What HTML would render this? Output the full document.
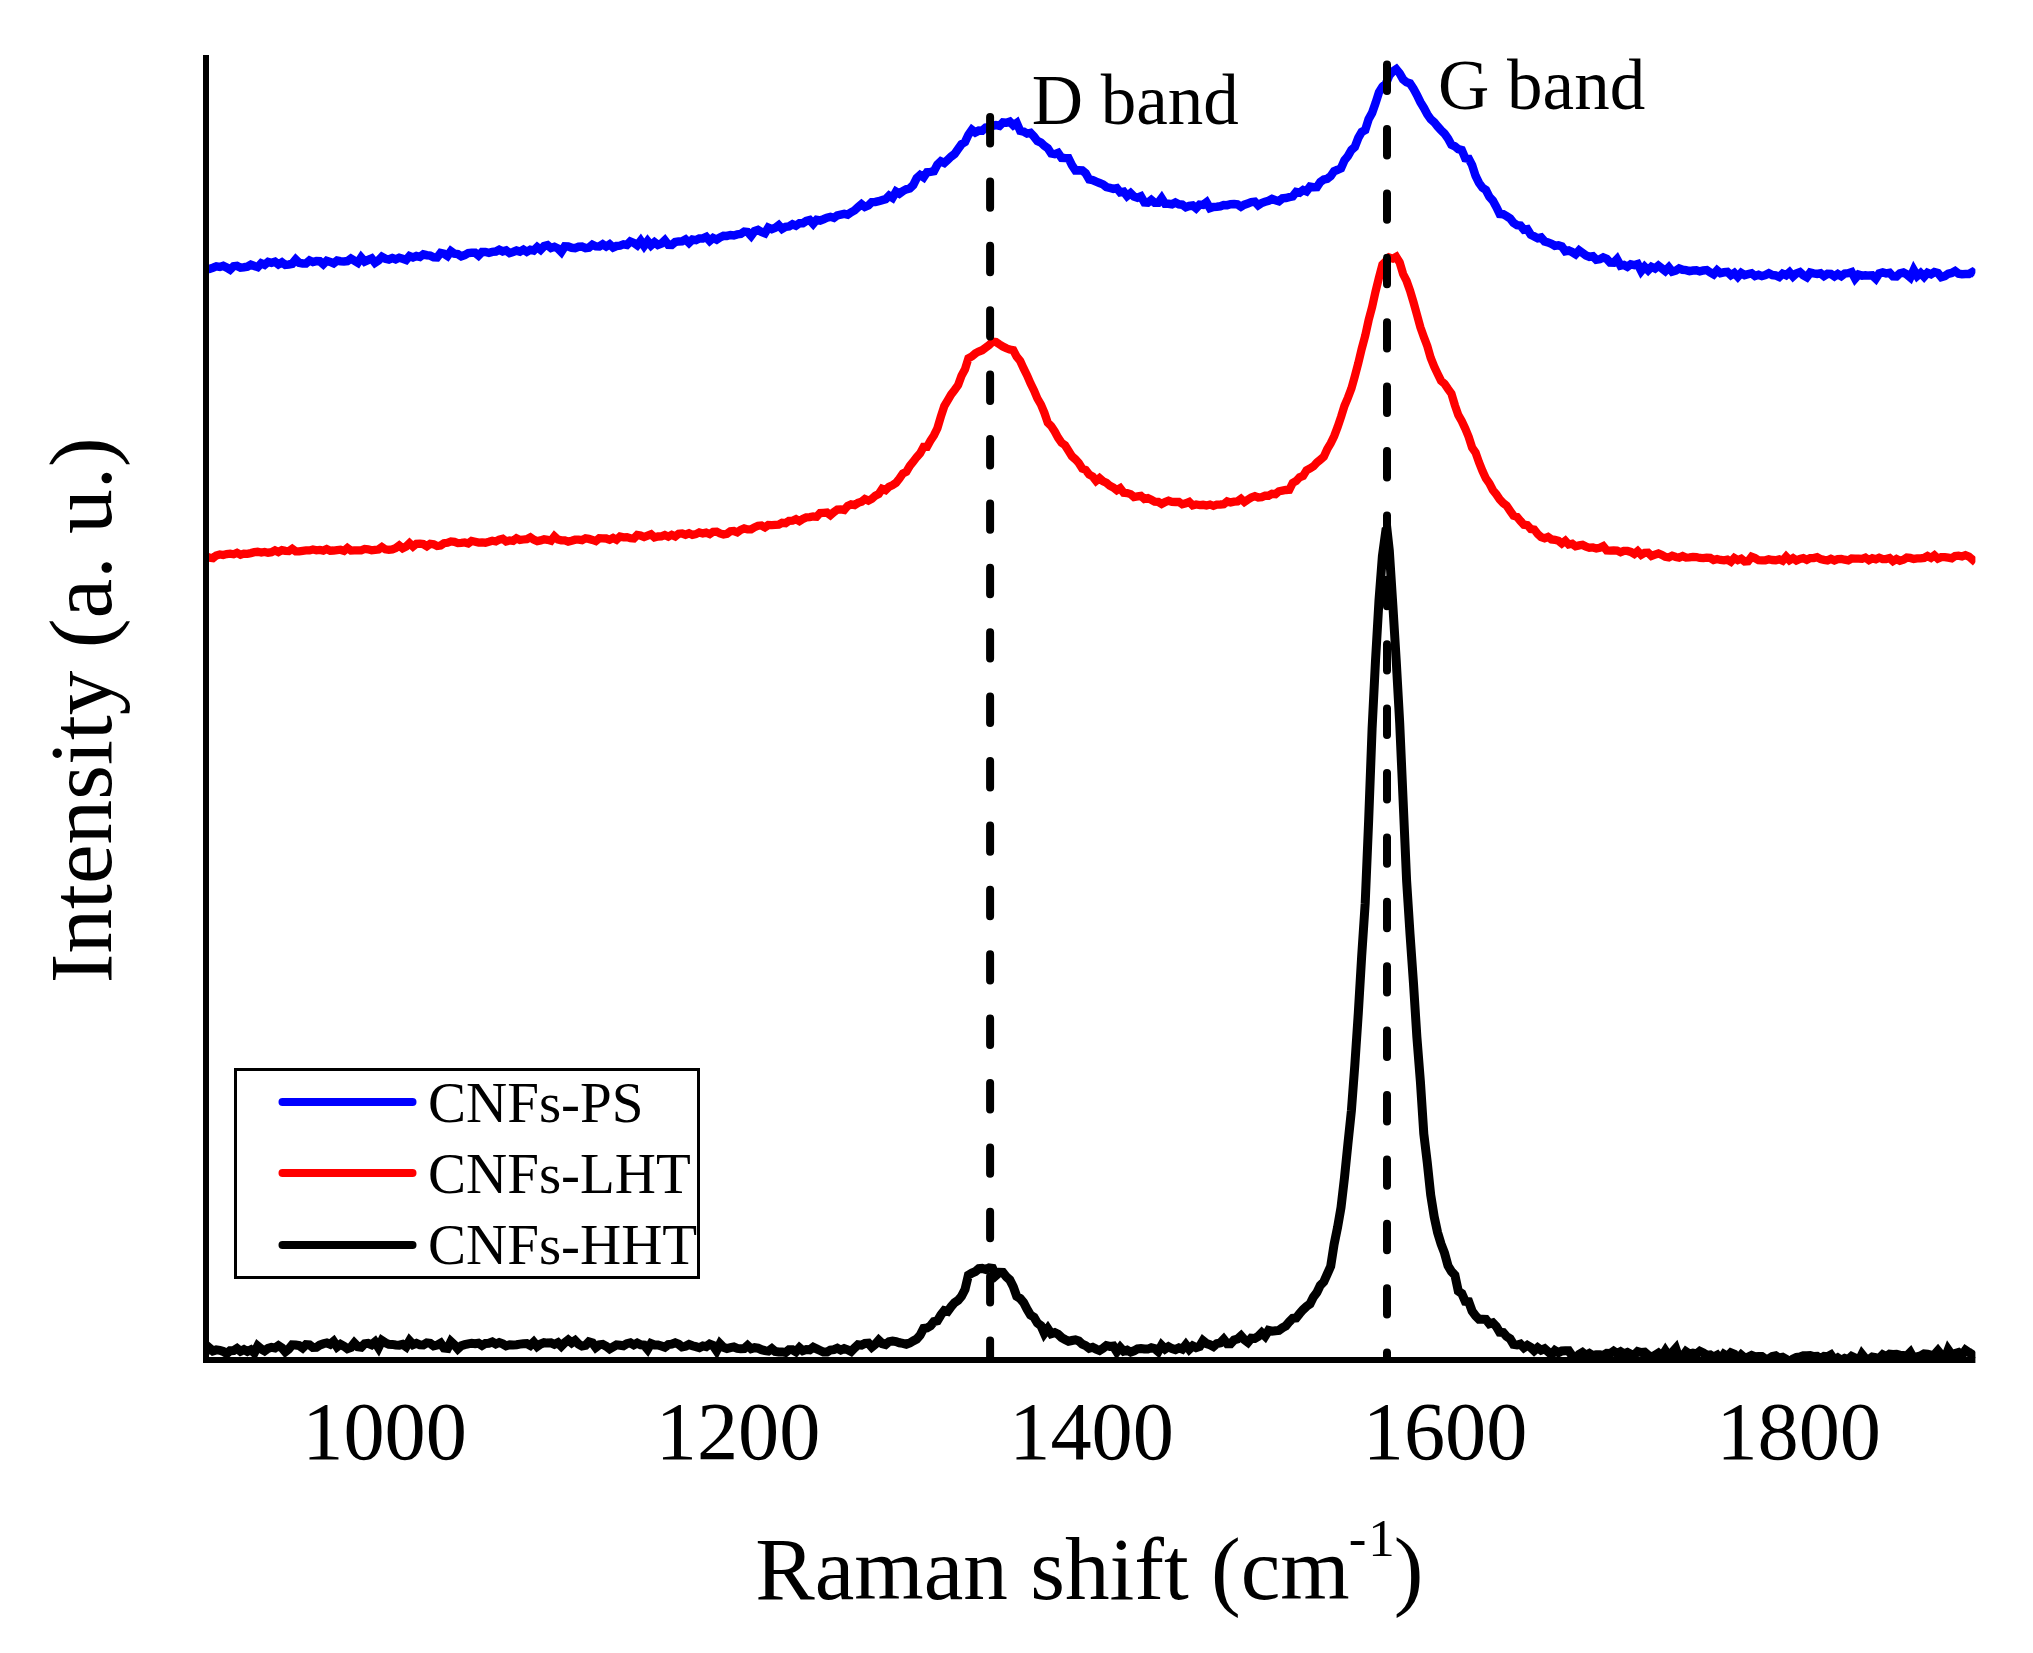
<!DOCTYPE html>
<html><head><meta charset="utf-8"><title>Raman spectra</title>
<style>
html,body{margin:0;padding:0;background:#fff;overflow:hidden;}
svg{display:block;}
text{font-family:'Liberation Serif','Times New Roman',serif;fill:#000;}
</style></head>
<body>
<svg width="2033" height="1653" viewBox="0 0 2033 1653">
<rect width="2033" height="1653" fill="#fff"/>
<!-- data -->
<defs><clipPath id="plotclip"><rect x="203" y="40" width="1772.4" height="1323"/></clipPath></defs>
<g clip-path="url(#plotclip)" fill="none" stroke-linejoin="miter" stroke-miterlimit="2.5" stroke-linecap="butt" stroke-width="8.3">
<path stroke="#000" stroke-width="9" d="M206.0 1351.7 L209.4 1348.0 L212.9 1351.0 L216.3 1349.9 L219.8 1350.3 L223.2 1351.4 L226.7 1353.5 L230.1 1350.7 L233.6 1350.5 L237.0 1348.4 L240.5 1351.2 L243.9 1349.6 L247.4 1351.5 L250.8 1349.8 L254.3 1353.0 L257.7 1346.1 L261.2 1349.0 L264.6 1350.9 L268.1 1348.4 L271.5 1347.3 L275.0 1347.9 L278.4 1345.6 L281.9 1347.9 L285.3 1351.8 L288.8 1349.1 L292.2 1344.8 L295.7 1345.0 L299.1 1345.6 L302.6 1348.0 L306.0 1344.6 L309.5 1344.8 L312.9 1347.5 L316.4 1347.4 L319.8 1345.1 L323.3 1343.7 L326.7 1342.9 L330.2 1344.3 L333.6 1341.5 L337.1 1346.8 L340.5 1344.3 L344.0 1346.2 L347.4 1348.7 L350.9 1347.4 L354.3 1343.1 L357.8 1346.7 L361.2 1347.2 L364.7 1343.7 L368.1 1343.3 L371.6 1344.8 L375.0 1342.0 L378.5 1347.5 L381.9 1340.5 L385.4 1342.8 L388.8 1344.3 L392.3 1344.4 L395.7 1345.0 L399.2 1345.2 L402.6 1344.3 L406.1 1346.7 L409.5 1340.8 L413.0 1344.6 L416.4 1343.3 L419.9 1344.8 L423.3 1344.9 L426.8 1342.9 L430.2 1343.3 L433.7 1345.9 L437.1 1345.1 L440.6 1343.2 L444.0 1348.1 L447.5 1348.5 L450.9 1341.7 L454.4 1344.9 L457.8 1348.8 L461.3 1345.7 L464.7 1344.7 L468.2 1343.9 L471.6 1343.3 L475.1 1343.8 L478.5 1343.2 L482.0 1345.5 L485.4 1343.4 L488.9 1343.3 L492.3 1342.0 L495.8 1344.0 L499.2 1342.5 L502.7 1343.8 L506.1 1345.9 L509.6 1344.7 L513.0 1345.0 L516.5 1344.7 L519.9 1344.1 L523.4 1343.8 L526.8 1343.5 L530.3 1345.4 L533.7 1342.1 L537.2 1346.4 L540.6 1344.1 L544.1 1342.7 L547.5 1343.1 L551.0 1342.8 L554.4 1344.3 L557.9 1342.7 L561.3 1346.1 L564.8 1342.6 L568.2 1340.0 L571.7 1342.8 L575.1 1340.5 L578.6 1344.1 L582.0 1346.1 L585.5 1345.4 L588.9 1341.8 L592.4 1342.9 L595.8 1347.5 L599.3 1344.9 L602.7 1344.4 L606.2 1346.3 L609.6 1348.9 L613.1 1346.8 L616.5 1344.8 L620.0 1345.2 L623.4 1345.7 L626.9 1343.6 L630.3 1342.8 L633.8 1344.9 L637.2 1343.1 L640.7 1344.8 L644.1 1345.1 L647.6 1349.2 L651.0 1343.5 L654.5 1344.9 L657.9 1344.9 L661.4 1346.1 L664.8 1347.3 L668.3 1344.6 L671.7 1344.2 L675.2 1342.8 L678.6 1344.2 L682.1 1347.0 L685.5 1346.3 L689.0 1344.5 L692.4 1345.8 L695.9 1346.7 L699.3 1347.7 L702.8 1345.9 L706.2 1346.7 L709.7 1344.1 L713.1 1345.4 L716.6 1350.6 L720.0 1343.9 L723.5 1347.4 L726.9 1348.5 L730.4 1347.6 L733.8 1347.0 L737.3 1348.4 L740.7 1348.7 L744.2 1348.6 L747.6 1345.5 L751.1 1348.7 L754.5 1347.6 L758.0 1348.2 L761.4 1349.7 L764.9 1350.6 L768.3 1351.1 L771.8 1348.7 L775.2 1351.4 L778.7 1351.9 L782.1 1351.9 L785.6 1352.5 L789.0 1349.8 L792.5 1349.8 L795.9 1351.7 L799.4 1347.8 L802.8 1350.7 L806.3 1349.5 L809.7 1349.8 L813.2 1347.3 L816.6 1348.9 L820.1 1350.5 L823.5 1352.1 L827.0 1352.1 L830.4 1350.0 L833.9 1349.6 L837.3 1348.2 L840.8 1350.1 L844.2 1348.6 L847.7 1349.8 L851.1 1351.5 L854.6 1347.9 L858.0 1344.7 L861.5 1345.2 L864.9 1343.4 L868.4 1343.2 L871.8 1347.0 L875.3 1344.2 L878.7 1340.3 L882.2 1343.6 L885.6 1344.5 L889.1 1341.6 L892.5 1341.0 L896.0 1341.6 L899.4 1342.8 L902.9 1343.4 L906.3 1344.3 L909.8 1343.0 L913.2 1340.9 L916.7 1339.1 L920.1 1335.3 L923.6 1328.4 L927.0 1328.0 L930.5 1325.9 L933.9 1321.6 L937.4 1320.8 L940.8 1315.1 L944.3 1310.6 L947.7 1311.4 L951.2 1306.6 L954.6 1302.6 L958.1 1300.4 L961.5 1296.3 L965.0 1289.5 L968.4 1275.2 L971.9 1273.1 L975.3 1271.6 L978.8 1268.7 L982.2 1268.4 L985.7 1269.5 L989.1 1267.8 L992.6 1268.3 L996.0 1275.4 L999.5 1272.3 L1002.9 1272.5 L1006.4 1276.8 L1009.8 1279.9 L1013.3 1286.7 L1016.7 1296.2 L1020.2 1298.5 L1023.6 1302.5 L1027.1 1309.3 L1030.5 1315.1 L1034.0 1317.2 L1037.4 1323.0 L1040.9 1325.7 L1044.3 1333.3 L1047.8 1328.6 L1051.2 1333.7 L1054.7 1332.6 L1058.1 1334.2 L1061.6 1337.6 L1065.0 1339.5 L1068.5 1341.3 L1071.9 1340.5 L1075.4 1339.8 L1078.8 1341.0 L1082.3 1344.2 L1085.7 1345.7 L1089.2 1348.3 L1092.6 1347.3 L1096.1 1349.1 L1099.5 1350.4 L1103.0 1348.3 L1106.4 1345.6 L1109.9 1346.4 L1113.3 1346.1 L1116.8 1351.7 L1120.2 1347.4 L1123.7 1351.2 L1127.1 1350.1 L1130.6 1352.1 L1134.0 1350.8 L1137.5 1348.8 L1140.9 1348.5 L1144.4 1349.0 L1147.8 1349.1 L1151.3 1347.8 L1154.7 1348.6 L1158.2 1351.5 L1161.6 1345.4 L1165.1 1348.9 L1168.5 1346.7 L1172.0 1348.6 L1175.4 1349.6 L1178.9 1347.9 L1182.3 1349.2 L1185.8 1344.8 L1189.2 1349.3 L1192.7 1345.9 L1196.1 1347.6 L1199.6 1346.4 L1203.0 1340.8 L1206.5 1343.6 L1209.9 1344.7 L1213.4 1346.5 L1216.8 1343.6 L1220.3 1342.9 L1223.7 1339.3 L1227.2 1343.8 L1230.6 1343.8 L1234.1 1340.0 L1237.5 1339.0 L1241.0 1335.9 L1244.4 1339.8 L1247.9 1342.4 L1251.3 1338.2 L1254.8 1338.5 L1258.2 1336.4 L1261.7 1332.8 L1265.1 1336.1 L1268.6 1330.4 L1272.0 1331.1 L1275.5 1330.7 L1278.9 1330.4 L1282.4 1327.8 L1285.8 1325.9 L1289.3 1321.7 L1292.7 1318.3 L1296.2 1318.0 L1299.6 1313.7 L1303.1 1309.6 L1306.5 1306.4 L1310.0 1304.0 L1313.4 1297.1 L1316.9 1292.4 L1320.3 1285.4 L1323.8 1281.8 L1327.2 1274.1 L1330.7 1266.3 L1334.1 1244.4 L1337.6 1227.2 L1341.0 1207.5 L1344.5 1177.5 L1347.9 1144.0 L1351.4 1110.6 L1354.8 1065.4 L1358.3 1013.1 L1361.7 955.8 L1365.2 903.2 L1368.6 821.7 L1372.1 728.5 L1375.5 660.8 L1379.0 600.2 L1382.4 556.1 L1385.9 530.3 L1387.0 529.6 L1389.3 550.4 L1392.8 604.5 L1396.2 660.3 L1399.7 722.9 L1403.1 800.4 L1406.6 880.6 L1410.0 933.8 L1413.5 983.6 L1416.9 1037.4 L1420.4 1081.7 L1423.8 1133.9 L1427.3 1162.9 L1430.7 1195.0 L1434.2 1216.8 L1437.6 1232.5 L1441.1 1244.1 L1444.5 1253.0 L1448.0 1265.8 L1451.4 1271.4 L1454.9 1275.1 L1458.3 1291.1 L1461.8 1293.5 L1465.2 1301.3 L1468.7 1301.7 L1472.1 1311.1 L1475.6 1315.9 L1479.0 1319.3 L1482.5 1319.3 L1485.9 1319.5 L1489.4 1323.8 L1492.8 1322.8 L1496.3 1326.4 L1499.7 1332.2 L1503.2 1332.6 L1506.6 1336.4 L1510.1 1338.7 L1513.5 1344.4 L1517.0 1345.0 L1520.4 1344.1 L1523.9 1347.7 L1527.3 1345.4 L1530.8 1347.4 L1534.2 1350.7 L1537.7 1347.7 L1541.1 1350.1 L1544.6 1348.7 L1548.0 1351.6 L1551.5 1354.6 L1554.9 1350.6 L1558.4 1352.7 L1561.8 1350.9 L1565.3 1350.7 L1568.7 1350.8 L1572.2 1355.8 L1575.6 1357.7 L1579.1 1354.5 L1582.5 1352.5 L1586.0 1355.2 L1589.4 1353.4 L1592.9 1355.5 L1596.3 1354.7 L1599.8 1354.7 L1603.2 1355.4 L1606.7 1353.3 L1610.1 1353.6 L1613.6 1351.2 L1617.0 1353.5 L1620.5 1351.7 L1623.9 1353.9 L1627.4 1352.4 L1630.8 1354.3 L1634.3 1354.9 L1637.7 1351.5 L1641.2 1352.5 L1644.6 1352.2 L1648.1 1355.2 L1651.5 1356.9 L1655.0 1355.3 L1658.4 1353.1 L1661.9 1356.3 L1665.3 1350.9 L1668.8 1356.3 L1672.2 1352.4 L1675.7 1348.5 L1679.1 1358.3 L1682.6 1356.3 L1686.0 1351.6 L1689.5 1353.9 L1692.9 1353.2 L1696.4 1353.9 L1699.8 1351.2 L1703.3 1352.9 L1706.7 1355.2 L1710.2 1354.9 L1713.6 1357.0 L1717.1 1355.2 L1720.5 1359.6 L1724.0 1354.3 L1727.4 1356.3 L1730.9 1352.7 L1734.3 1354.1 L1737.8 1359.0 L1741.2 1355.1 L1744.7 1358.0 L1748.1 1357.1 L1751.6 1355.5 L1755.0 1356.8 L1758.5 1356.6 L1761.9 1356.6 L1765.4 1358.9 L1768.8 1358.7 L1772.3 1356.4 L1775.7 1355.8 L1779.2 1358.0 L1782.6 1357.3 L1786.1 1359.3 L1789.5 1362.2 L1793.0 1358.9 L1796.4 1357.3 L1799.9 1357.0 L1803.3 1355.8 L1806.8 1355.7 L1810.2 1355.5 L1813.7 1356.5 L1817.1 1356.4 L1820.6 1358.5 L1824.0 1356.4 L1827.5 1356.8 L1830.9 1354.9 L1834.4 1360.0 L1837.8 1357.9 L1841.3 1360.2 L1844.7 1358.3 L1848.2 1359.5 L1851.6 1356.3 L1855.1 1358.0 L1858.5 1361.5 L1862.0 1354.4 L1865.4 1358.6 L1868.9 1359.4 L1872.3 1357.0 L1875.8 1357.6 L1879.2 1358.4 L1882.7 1354.8 L1886.1 1356.6 L1889.6 1354.1 L1893.0 1354.4 L1896.5 1354.3 L1899.9 1355.1 L1903.4 1355.5 L1906.8 1355.9 L1910.3 1352.4 L1913.7 1358.5 L1917.2 1356.8 L1920.6 1355.9 L1924.1 1353.8 L1927.5 1354.1 L1931.0 1355.1 L1934.4 1354.7 L1937.9 1350.7 L1941.3 1355.0 L1944.8 1358.8 L1948.2 1349.9 L1951.7 1354.9 L1955.1 1353.6 L1958.6 1352.5 L1962.0 1355.0 L1965.5 1350.1 L1968.9 1352.4 L1972.4 1354.6 L1975.0 1351.3"/>
<path stroke="#ff0000" d="M206.0 556.3 L209.4 557.7 L212.9 558.1 L216.3 555.4 L219.8 554.4 L223.2 555.0 L226.7 554.1 L230.1 553.7 L233.6 554.3 L237.0 552.9 L240.5 554.7 L243.9 553.6 L247.4 553.8 L250.8 553.1 L254.3 552.2 L257.7 551.8 L261.2 552.5 L264.6 551.9 L268.1 552.7 L271.5 552.2 L275.0 550.4 L278.4 552.0 L281.9 550.1 L285.3 550.9 L288.8 551.1 L292.2 548.8 L295.7 551.4 L299.1 551.3 L302.6 550.8 L306.0 550.4 L309.5 550.4 L312.9 549.5 L316.4 550.3 L319.8 549.9 L323.3 550.6 L326.7 549.0 L330.2 550.7 L333.6 550.5 L337.1 550.1 L340.5 549.7 L344.0 550.9 L347.4 548.0 L350.9 550.6 L354.3 550.3 L357.8 550.3 L361.2 550.3 L364.7 548.9 L368.1 549.3 L371.6 550.3 L375.0 549.9 L378.5 549.5 L381.9 547.1 L385.4 549.4 L388.8 549.9 L392.3 549.4 L395.7 548.1 L399.2 545.5 L402.6 548.3 L406.1 546.5 L409.5 543.2 L413.0 546.5 L416.4 543.8 L419.9 543.6 L423.3 544.1 L426.8 546.2 L430.2 543.8 L433.7 544.3 L437.1 545.9 L440.6 545.5 L444.0 543.2 L447.5 542.8 L450.9 541.4 L454.4 541.9 L457.8 543.1 L461.3 542.9 L464.7 542.4 L468.2 543.4 L471.6 541.0 L475.1 541.7 L478.5 542.6 L482.0 542.3 L485.4 542.7 L488.9 541.8 L492.3 540.8 L495.8 541.5 L499.2 539.7 L502.7 538.8 L506.1 541.4 L509.6 540.5 L513.0 540.9 L516.5 538.3 L519.9 539.9 L523.4 539.5 L526.8 539.1 L530.3 537.3 L533.7 539.7 L537.2 541.1 L540.6 540.4 L544.1 539.2 L547.5 539.8 L551.0 540.7 L554.4 536.3 L557.9 539.5 L561.3 540.3 L564.8 540.4 L568.2 541.6 L571.7 540.8 L575.1 539.7 L578.6 539.6 L582.0 540.1 L585.5 538.3 L588.9 538.9 L592.4 539.9 L595.8 541.1 L599.3 538.3 L602.7 538.4 L606.2 538.5 L609.6 539.8 L613.1 538.0 L616.5 539.7 L620.0 536.5 L623.4 537.3 L626.9 537.1 L630.3 538.2 L633.8 538.4 L637.2 535.0 L640.7 535.6 L644.1 537.0 L647.6 535.6 L651.0 534.3 L654.5 537.4 L657.9 536.5 L661.4 536.4 L664.8 535.0 L668.3 536.7 L671.7 534.9 L675.2 536.4 L678.6 533.7 L682.1 533.5 L685.5 534.7 L689.0 533.3 L692.4 534.8 L695.9 534.1 L699.3 532.4 L702.8 533.4 L706.2 532.6 L709.7 534.0 L713.1 531.8 L716.6 531.7 L720.0 533.5 L723.5 534.5 L726.9 533.9 L730.4 531.2 L733.8 531.0 L737.3 532.3 L740.7 529.9 L744.2 528.4 L747.6 529.4 L751.1 529.4 L754.5 527.3 L758.0 525.7 L761.4 525.4 L764.9 527.4 L768.3 525.0 L771.8 525.1 L775.2 524.9 L778.7 524.7 L782.1 522.8 L785.6 523.2 L789.0 520.8 L792.5 520.7 L795.9 519.2 L799.4 521.2 L802.8 519.0 L806.3 517.4 L809.7 517.1 L813.2 516.5 L816.6 516.8 L820.1 513.0 L823.5 512.8 L827.0 512.6 L830.4 515.2 L833.9 512.1 L837.3 509.6 L840.8 509.5 L844.2 510.0 L847.7 505.9 L851.1 504.4 L854.6 505.1 L858.0 502.9 L861.5 501.8 L864.9 499.0 L868.4 500.6 L871.8 498.8 L875.3 495.7 L878.7 494.1 L882.2 488.8 L885.6 490.1 L889.1 486.8 L892.5 485.1 L896.0 482.8 L899.4 478.6 L902.9 473.4 L906.3 471.8 L909.8 465.8 L913.2 461.7 L916.7 457.1 L920.1 453.4 L923.6 446.9 L927.0 446.9 L930.5 440.6 L933.9 435.4 L937.4 428.2 L940.8 416.8 L944.3 406.1 L947.7 400.4 L951.2 394.4 L954.6 390.0 L958.1 385.1 L961.5 375.8 L965.0 369.3 L968.4 358.3 L971.9 356.4 L975.3 353.5 L978.8 351.5 L982.2 350.2 L985.7 347.7 L989.1 345.2 L992.6 341.6 L996.0 342.0 L999.5 344.4 L1002.9 346.6 L1006.4 348.3 L1009.8 349.6 L1013.3 350.3 L1016.7 356.7 L1020.2 361.0 L1023.6 368.5 L1027.1 375.4 L1030.5 383.3 L1034.0 390.4 L1037.4 398.5 L1040.9 404.5 L1044.3 412.6 L1047.8 422.8 L1051.2 426.1 L1054.7 431.5 L1058.1 437.7 L1061.6 442.8 L1065.0 445.2 L1068.5 450.7 L1071.9 456.2 L1075.4 459.3 L1078.8 463.0 L1082.3 468.7 L1085.7 469.9 L1089.2 474.5 L1092.6 476.4 L1096.1 480.9 L1099.5 478.2 L1103.0 481.2 L1106.4 482.8 L1109.9 485.8 L1113.3 487.5 L1116.8 490.2 L1120.2 488.2 L1123.7 492.8 L1127.1 493.0 L1130.6 494.1 L1134.0 497.0 L1137.5 496.4 L1140.9 495.9 L1144.4 498.9 L1147.8 498.2 L1151.3 499.8 L1154.7 501.6 L1158.2 501.9 L1161.6 503.9 L1165.1 502.0 L1168.5 500.7 L1172.0 501.9 L1175.4 502.0 L1178.9 501.9 L1182.3 504.3 L1185.8 503.3 L1189.2 501.9 L1192.7 505.4 L1196.1 504.5 L1199.6 505.1 L1203.0 504.8 L1206.5 505.4 L1209.9 504.5 L1213.4 505.9 L1216.8 504.7 L1220.3 504.5 L1223.7 504.2 L1227.2 501.4 L1230.6 502.4 L1234.1 501.6 L1237.5 501.4 L1241.0 498.8 L1244.4 502.0 L1247.9 499.6 L1251.3 497.4 L1254.8 496.2 L1258.2 497.5 L1261.7 497.1 L1265.1 495.6 L1268.6 495.7 L1272.0 493.8 L1275.5 494.2 L1278.9 491.3 L1282.4 490.6 L1285.8 490.0 L1289.3 489.8 L1292.7 482.9 L1296.2 481.0 L1299.6 477.3 L1303.1 475.9 L1306.5 470.4 L1310.0 468.5 L1313.4 466.4 L1316.9 462.5 L1320.3 459.7 L1323.8 456.7 L1327.2 449.2 L1330.7 443.3 L1334.1 436.3 L1337.6 427.0 L1341.0 417.0 L1344.5 405.8 L1347.9 397.8 L1351.4 388.5 L1354.8 376.3 L1358.3 363.1 L1361.7 348.8 L1365.2 335.8 L1368.6 320.3 L1372.1 307.1 L1375.5 291.7 L1379.0 277.6 L1382.4 264.7 L1385.9 261.2 L1389.3 257.5 L1392.8 258.6 L1396.2 256.8 L1399.7 262.5 L1403.1 274.0 L1406.6 281.0 L1410.0 290.5 L1413.5 302.2 L1416.9 314.5 L1420.4 327.3 L1423.8 336.8 L1427.3 346.0 L1430.7 357.9 L1434.2 366.6 L1437.6 373.7 L1441.1 380.8 L1444.5 383.7 L1448.0 388.9 L1451.4 393.6 L1454.9 405.3 L1458.3 415.0 L1461.8 421.2 L1465.2 428.5 L1468.7 436.9 L1472.1 447.6 L1475.6 452.7 L1479.0 462.3 L1482.5 471.1 L1485.9 478.4 L1489.4 483.3 L1492.8 490.0 L1496.3 494.3 L1499.7 499.3 L1503.2 503.1 L1506.6 505.7 L1510.1 510.8 L1513.5 515.7 L1517.0 516.8 L1520.4 520.9 L1523.9 524.7 L1527.3 525.1 L1530.8 529.0 L1534.2 529.5 L1537.7 534.0 L1541.1 537.1 L1544.6 538.3 L1548.0 536.9 L1551.5 539.4 L1554.9 539.8 L1558.4 540.8 L1561.8 543.5 L1565.3 540.8 L1568.7 544.5 L1572.2 543.8 L1575.6 546.3 L1579.1 545.4 L1582.5 544.9 L1586.0 546.6 L1589.4 547.7 L1592.9 547.4 L1596.3 548.4 L1599.8 547.7 L1603.2 546.1 L1606.7 550.4 L1610.1 550.6 L1613.6 550.3 L1617.0 550.6 L1620.5 552.2 L1623.9 550.8 L1627.4 550.9 L1630.8 551.9 L1634.3 554.0 L1637.7 551.2 L1641.2 554.8 L1644.6 552.9 L1648.1 552.7 L1651.5 556.0 L1655.0 554.7 L1658.4 553.5 L1661.9 555.0 L1665.3 556.9 L1668.8 557.5 L1672.2 555.7 L1675.7 557.0 L1679.1 557.6 L1682.6 556.1 L1686.0 557.6 L1689.5 557.3 L1692.9 556.9 L1696.4 557.1 L1699.8 558.0 L1703.3 558.2 L1706.7 557.6 L1710.2 557.9 L1713.6 560.0 L1717.1 559.0 L1720.5 559.9 L1724.0 560.4 L1727.4 559.7 L1730.9 561.8 L1734.3 558.0 L1737.8 560.1 L1741.2 558.7 L1744.7 561.5 L1748.1 561.3 L1751.6 556.8 L1755.0 558.1 L1758.5 560.2 L1761.9 560.3 L1765.4 560.3 L1768.8 559.3 L1772.3 560.0 L1775.7 560.2 L1779.2 559.3 L1782.6 560.7 L1786.1 556.6 L1789.5 560.2 L1793.0 558.1 L1796.4 560.5 L1799.9 559.0 L1803.3 558.2 L1806.8 559.8 L1810.2 558.1 L1813.7 558.1 L1817.1 557.2 L1820.6 559.1 L1824.0 559.8 L1827.5 560.4 L1830.9 558.9 L1834.4 560.4 L1837.8 559.1 L1841.3 558.9 L1844.7 559.7 L1848.2 560.3 L1851.6 558.5 L1855.1 558.6 L1858.5 558.7 L1862.0 558.9 L1865.4 557.7 L1868.9 560.1 L1872.3 558.3 L1875.8 559.3 L1879.2 557.7 L1882.7 559.1 L1886.1 559.1 L1889.6 558.1 L1893.0 561.1 L1896.5 559.0 L1899.9 560.7 L1903.4 559.7 L1906.8 557.6 L1910.3 557.9 L1913.7 558.9 L1917.2 558.4 L1920.6 558.4 L1924.1 557.9 L1927.5 556.0 L1931.0 557.9 L1934.4 555.4 L1937.9 558.6 L1941.3 557.2 L1944.8 557.1 L1948.2 557.7 L1951.7 558.3 L1955.1 556.1 L1958.6 555.7 L1962.0 556.5 L1965.5 555.2 L1968.9 556.5 L1972.4 559.6 L1975.0 556.3"/>
<path stroke="#0000ff" stroke-width="8.5" d="M206.0 268.5 L209.4 268.9 L212.9 267.7 L216.3 266.4 L219.8 267.0 L223.2 265.9 L226.7 267.6 L230.1 269.7 L233.6 266.3 L237.0 265.9 L240.5 267.7 L243.9 267.2 L247.4 266.6 L250.8 264.6 L254.3 266.0 L257.7 267.1 L261.2 263.4 L264.6 264.8 L268.1 262.0 L271.5 262.9 L275.0 261.8 L278.4 264.4 L281.9 262.4 L285.3 264.9 L288.8 264.5 L292.2 263.8 L295.7 259.5 L299.1 262.8 L302.6 263.4 L306.0 263.5 L309.5 260.5 L312.9 262.1 L316.4 261.1 L319.8 261.2 L323.3 264.2 L326.7 260.8 L330.2 261.9 L333.6 263.3 L337.1 260.6 L340.5 261.2 L344.0 261.4 L347.4 261.1 L350.9 258.6 L354.3 260.7 L357.8 262.8 L361.2 257.5 L364.7 261.5 L368.1 260.0 L371.6 258.4 L375.0 262.8 L378.5 260.5 L381.9 256.8 L385.4 258.8 L388.8 259.5 L392.3 258.0 L395.7 259.3 L399.2 257.7 L402.6 258.8 L406.1 260.0 L409.5 256.0 L413.0 257.4 L416.4 256.0 L419.9 256.8 L423.3 254.3 L426.8 255.2 L430.2 255.6 L433.7 257.3 L437.1 257.5 L440.6 253.0 L444.0 253.7 L447.5 256.0 L450.9 251.2 L454.4 253.7 L457.8 254.1 L461.3 256.3 L464.7 255.1 L468.2 253.1 L471.6 252.8 L475.1 252.8 L478.5 255.6 L482.0 252.0 L485.4 252.0 L488.9 252.9 L492.3 251.9 L495.8 251.5 L499.2 249.7 L502.7 251.4 L506.1 250.5 L509.6 253.1 L513.0 252.0 L516.5 250.6 L519.9 251.6 L523.4 249.6 L526.8 251.8 L530.3 249.7 L533.7 250.6 L537.2 247.1 L540.6 249.8 L544.1 246.0 L547.5 245.2 L551.0 248.0 L554.4 246.8 L557.9 248.5 L561.3 251.9 L564.8 246.4 L568.2 246.5 L571.7 247.8 L575.1 248.2 L578.6 246.8 L582.0 246.6 L585.5 248.1 L588.9 247.6 L592.4 244.8 L595.8 246.3 L599.3 246.4 L602.7 244.3 L606.2 246.5 L609.6 244.4 L613.1 247.5 L616.5 246.0 L620.0 245.6 L623.4 244.3 L626.9 245.0 L630.3 241.5 L633.8 242.9 L637.2 245.3 L640.7 240.8 L644.1 245.8 L647.6 241.1 L651.0 245.3 L654.5 242.2 L657.9 244.9 L661.4 243.5 L664.8 240.3 L668.3 244.9 L671.7 245.0 L675.2 242.0 L678.6 241.4 L682.1 241.2 L685.5 239.5 L689.0 242.8 L692.4 239.6 L695.9 240.1 L699.3 238.4 L702.8 238.4 L706.2 236.9 L709.7 240.9 L713.1 238.0 L716.6 239.6 L720.0 237.4 L723.5 235.8 L726.9 235.9 L730.4 235.0 L733.8 235.5 L737.3 234.4 L740.7 234.0 L744.2 231.6 L747.6 232.1 L751.1 235.8 L754.5 231.2 L758.0 230.0 L761.4 231.9 L764.9 233.2 L768.3 227.6 L771.8 229.1 L775.2 227.8 L778.7 225.2 L782.1 228.9 L785.6 226.9 L789.0 226.4 L792.5 224.3 L795.9 225.7 L799.4 223.3 L802.8 223.3 L806.3 220.9 L809.7 220.0 L813.2 223.8 L816.6 219.8 L820.1 220.5 L823.5 219.2 L827.0 217.7 L830.4 216.8 L833.9 217.9 L837.3 215.4 L840.8 214.6 L844.2 213.8 L847.7 214.6 L851.1 212.3 L854.6 210.4 L858.0 207.2 L861.5 204.3 L864.9 206.9 L868.4 205.5 L871.8 202.1 L875.3 202.0 L878.7 201.2 L882.2 200.1 L885.6 199.2 L889.1 195.6 L892.5 197.8 L896.0 191.6 L899.4 193.7 L902.9 191.1 L906.3 189.3 L909.8 188.4 L913.2 185.1 L916.7 178.1 L920.1 175.0 L923.6 177.3 L927.0 172.2 L930.5 171.9 L933.9 171.2 L937.4 164.5 L940.8 161.3 L944.3 162.9 L947.7 159.8 L951.2 156.5 L954.6 153.9 L958.1 149.0 L961.5 144.2 L965.0 142.1 L968.4 134.8 L971.9 129.8 L975.3 132.4 L978.8 130.6 L982.2 130.7 L985.7 127.6 L989.1 127.3 L992.6 125.9 L996.0 125.2 L999.5 125.9 L1002.9 122.5 L1006.4 122.8 L1009.8 121.7 L1013.3 125.2 L1016.7 122.9 L1020.2 130.9 L1023.6 131.6 L1027.1 133.6 L1030.5 132.9 L1034.0 136.6 L1037.4 141.0 L1040.9 142.5 L1044.3 145.8 L1047.8 148.2 L1051.2 153.5 L1054.7 154.1 L1058.1 152.8 L1061.6 157.9 L1065.0 158.1 L1068.5 158.2 L1071.9 165.1 L1075.4 170.4 L1078.8 170.3 L1082.3 170.4 L1085.7 173.3 L1089.2 179.5 L1092.6 180.1 L1096.1 181.7 L1099.5 183.0 L1103.0 184.4 L1106.4 187.0 L1109.9 187.9 L1113.3 188.8 L1116.8 188.1 L1120.2 192.3 L1123.7 191.6 L1127.1 196.0 L1130.6 193.2 L1134.0 196.5 L1137.5 197.8 L1140.9 196.4 L1144.4 202.4 L1147.8 202.7 L1151.3 199.9 L1154.7 202.7 L1158.2 202.7 L1161.6 198.2 L1165.1 203.8 L1168.5 203.7 L1172.0 204.3 L1175.4 202.6 L1178.9 204.3 L1182.3 204.7 L1185.8 207.3 L1189.2 206.0 L1192.7 205.5 L1196.1 208.3 L1199.6 204.6 L1203.0 204.9 L1206.5 202.3 L1209.9 208.2 L1213.4 207.0 L1216.8 206.8 L1220.3 206.3 L1223.7 205.1 L1227.2 205.2 L1230.6 204.2 L1234.1 204.1 L1237.5 204.4 L1241.0 206.7 L1244.4 204.7 L1247.9 203.4 L1251.3 202.1 L1254.8 201.7 L1258.2 205.3 L1261.7 203.0 L1265.1 201.8 L1268.6 200.7 L1272.0 198.9 L1275.5 200.2 L1278.9 201.3 L1282.4 198.4 L1285.8 198.0 L1289.3 197.1 L1292.7 196.4 L1296.2 191.9 L1299.6 192.6 L1303.1 190.0 L1306.5 191.4 L1310.0 186.7 L1313.4 187.3 L1316.9 187.1 L1320.3 182.0 L1323.8 179.6 L1327.2 178.9 L1330.7 176.1 L1334.1 171.2 L1337.6 169.8 L1341.0 168.3 L1344.5 160.2 L1347.9 156.1 L1351.4 150.0 L1354.8 147.0 L1358.3 137.9 L1361.7 131.9 L1365.2 130.1 L1368.6 119.2 L1372.1 112.9 L1375.5 103.2 L1379.0 92.3 L1382.4 86.9 L1385.9 83.8 L1389.3 75.3 L1392.8 71.4 L1396.2 69.2 L1399.7 73.4 L1403.1 79.4 L1406.6 82.3 L1410.0 83.4 L1413.5 88.8 L1416.9 94.9 L1420.4 102.1 L1423.8 107.7 L1427.3 114.3 L1430.7 119.2 L1434.2 122.2 L1437.6 126.4 L1441.1 130.4 L1444.5 133.6 L1448.0 138.5 L1451.4 144.7 L1454.9 146.3 L1458.3 149.2 L1461.8 150.1 L1465.2 158.1 L1468.7 158.7 L1472.1 165.1 L1475.6 176.0 L1479.0 182.9 L1482.5 187.7 L1485.9 190.0 L1489.4 196.9 L1492.8 200.5 L1496.3 206.9 L1499.7 213.9 L1503.2 214.2 L1506.6 216.1 L1510.1 218.4 L1513.5 222.9 L1517.0 225.1 L1520.4 225.5 L1523.9 229.7 L1527.3 229.2 L1530.8 234.8 L1534.2 236.4 L1537.7 238.2 L1541.1 237.5 L1544.6 241.4 L1548.0 242.4 L1551.5 243.9 L1554.9 245.8 L1558.4 245.4 L1561.8 246.4 L1565.3 251.3 L1568.7 250.5 L1572.2 252.1 L1575.6 254.3 L1579.1 250.4 L1582.5 252.9 L1586.0 255.5 L1589.4 256.8 L1592.9 256.3 L1596.3 259.7 L1599.8 259.2 L1603.2 257.5 L1606.7 258.8 L1610.1 262.6 L1613.6 262.7 L1617.0 259.2 L1620.5 265.6 L1623.9 264.9 L1627.4 266.8 L1630.8 264.4 L1634.3 265.1 L1637.7 264.1 L1641.2 271.0 L1644.6 266.8 L1648.1 270.3 L1651.5 266.8 L1655.0 268.5 L1658.4 265.7 L1661.9 268.3 L1665.3 271.0 L1668.8 267.4 L1672.2 271.7 L1675.7 270.7 L1679.1 268.5 L1682.6 269.8 L1686.0 270.1 L1689.5 271.1 L1692.9 270.5 L1696.4 270.2 L1699.8 271.4 L1703.3 270.4 L1706.7 270.1 L1710.2 272.5 L1713.6 274.4 L1717.1 270.4 L1720.5 273.2 L1724.0 272.3 L1727.4 271.9 L1730.9 275.2 L1734.3 273.0 L1737.8 276.7 L1741.2 272.9 L1744.7 275.1 L1748.1 274.2 L1751.6 273.4 L1755.0 275.9 L1758.5 274.7 L1761.9 276.1 L1765.4 275.1 L1768.8 273.3 L1772.3 275.1 L1775.7 275.4 L1779.2 277.0 L1782.6 273.7 L1786.1 275.2 L1789.5 272.3 L1793.0 276.4 L1796.4 273.4 L1799.9 272.1 L1803.3 275.2 L1806.8 277.2 L1810.2 272.6 L1813.7 273.4 L1817.1 274.0 L1820.6 273.3 L1824.0 276.0 L1827.5 273.9 L1830.9 274.0 L1834.4 276.3 L1837.8 274.0 L1841.3 276.1 L1844.7 273.6 L1848.2 273.2 L1851.6 272.1 L1855.1 278.6 L1858.5 274.7 L1862.0 275.7 L1865.4 275.2 L1868.9 275.6 L1872.3 275.3 L1875.8 278.6 L1879.2 273.4 L1882.7 272.5 L1886.1 273.4 L1889.6 272.8 L1893.0 276.4 L1896.5 276.5 L1899.9 273.4 L1903.4 272.6 L1906.8 274.4 L1910.3 277.4 L1913.7 270.0 L1917.2 275.9 L1920.6 273.0 L1924.1 276.7 L1927.5 272.9 L1931.0 274.3 L1934.4 272.1 L1937.9 273.0 L1941.3 277.1 L1944.8 276.0 L1948.2 273.8 L1951.7 273.0 L1955.1 271.1 L1958.6 273.7 L1962.0 274.2 L1965.5 274.1 L1968.9 274.0 L1972.4 272.1 L1975.0 273.9"/>
</g>
<!-- dashed band markers -->
<g stroke="#000" stroke-width="8" stroke-linecap="round" stroke-dasharray="26.4 38" fill="none">
<path d="M990.1 117 V1358"/>
<path d="M1387 64.6 V1358"/>
</g>
<!-- axes -->
<path d="M206 55 V1360 H1975.4" fill="none" stroke="#000" stroke-width="6" stroke-linejoin="miter" stroke-linecap="butt"/>
<!-- legend -->
<rect x="235.5" y="1069.5" width="463" height="208" fill="#fff" stroke="#000" stroke-width="3"/>
<g stroke-width="8" stroke-linecap="round" fill="none">
<path stroke="#0000ff" d="M282.5 1102 H412.5"/>
<path stroke="#ff0000" d="M282.5 1173 H412.5"/>
<path stroke="#000" d="M282.5 1245 H412.5"/>
</g>
<g font-size="57">
<text x="428" y="1121.5">CNFs-PS</text>
<text x="428" y="1192.6">CNFs-LHT</text>
<text x="428" y="1263.8">CNFs-HHT</text>
</g>
<!-- band labels -->
<g font-size="71">
<text x="1031.8" y="123.8">D band</text>
<text x="1438.1" y="108.6">G band</text>
</g>
<!-- tick labels -->
<g font-size="82.3" text-anchor="middle">
<text x="384.6" y="1458.8">1000</text>
<text x="738.1" y="1458.8">1200</text>
<text x="1091.6" y="1458.8">1400</text>
<text x="1445.1" y="1458.8">1600</text>
<text x="1798.7" y="1458.8">1800</text>
</g>
<!-- axis labels -->
<text font-size="89.2" x="755.3" y="1598.8">Raman shift (cm<tspan font-size="53" x="1348.8" y="1556">-</tspan><tspan font-size="53" x="1368.3" y="1556">1</tspan><tspan x="1393.7" y="1598.8">)</tspan></text>
<text font-size="89.4" text-anchor="middle" transform="translate(110.8 710.3) rotate(-90)">Intensity (a. u.)</text>
</svg>
</body></html>
